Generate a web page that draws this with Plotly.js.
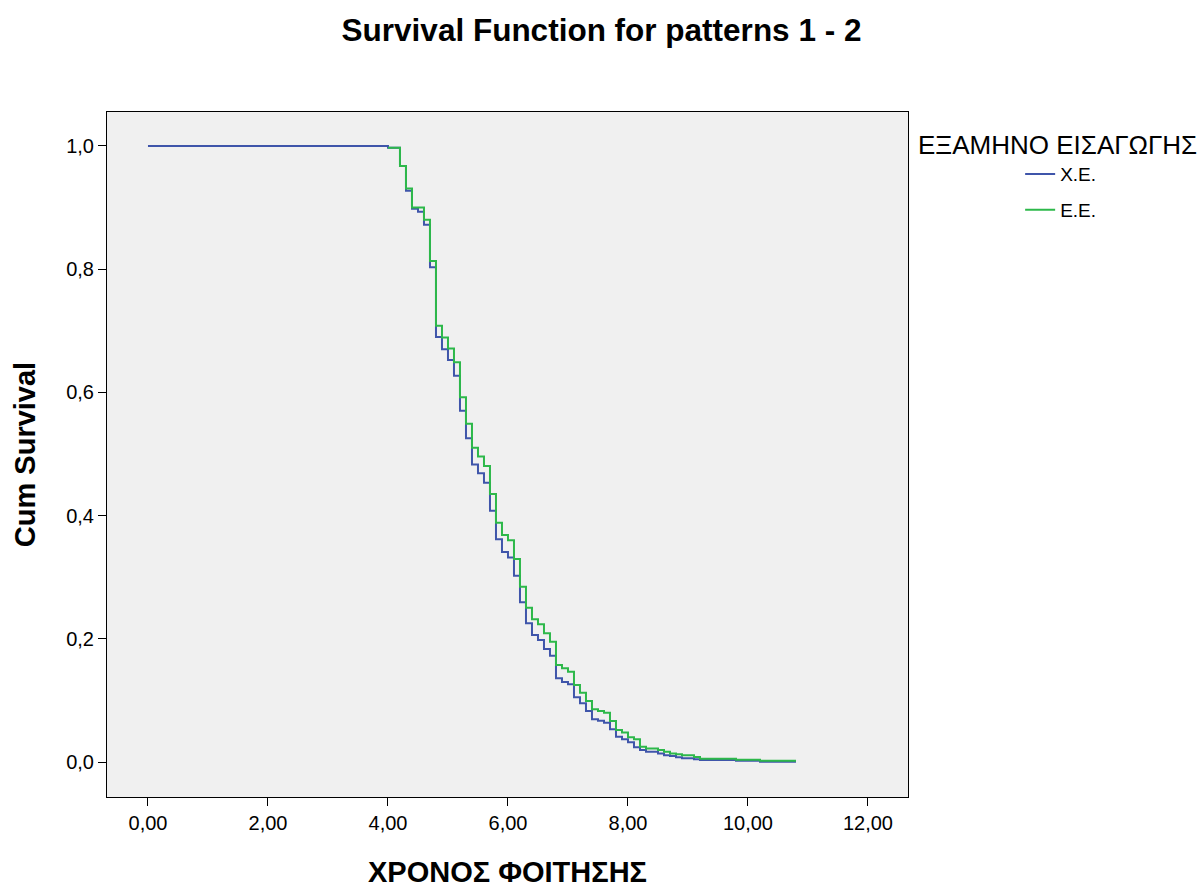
<!DOCTYPE html>
<html>
<head>
<meta charset="utf-8">
<script src="https://cdn.plot.ly/plotly-3.0.1.min.js"></script>
<style>html,body{margin:0;padding:0;background:#fff;}#chart{width:1203px;height:888px;}</style>
</head>
<body>
<div id="chart"></div>
<script>
// Step times (years) and cumulative survival values
const timesXE = [0, 4.0, 4.2, 4.3, 4.4, 4.5, 4.6, 4.7, 4.8, 4.9, 5.0, 5.1, 5.2, 5.3, 5.4, 5.5, 5.6, 5.7, 5.8, 5.9, 6.0, 6.1, 6.2, 6.3, 6.4, 6.5, 6.6, 6.7, 6.8, 6.9, 7.0, 7.1, 7.2, 7.3, 7.4, 7.5, 7.6, 7.7, 7.8, 7.9, 8.0, 8.1, 8.2, 8.3, 8.5, 8.6, 8.7, 8.8, 8.9, 9.1, 9.2, 9.8, 10.2, 10.8];
const survXE  = [1.0, 0.997, 0.9675, 0.927, 0.898, 0.893, 0.872, 0.803, 0.690, 0.670, 0.6526, 0.627, 0.570, 0.5255, 0.483, 0.4686, 0.4534, 0.408, 0.3615, 0.341, 0.332, 0.3024, 0.2592, 0.2251, 0.206, 0.198, 0.1834, 0.1726, 0.1359, 0.130, 0.126, 0.105, 0.0952, 0.0828, 0.0693, 0.067, 0.0638, 0.053, 0.041, 0.037, 0.032, 0.024, 0.0195, 0.0167, 0.014, 0.011, 0.0097, 0.0076, 0.006, 0.0043, 0.0032, 0.0021, 0.0005, 0.0005];

const timesEE = [4.0, 4.2, 4.3, 4.4, 4.6, 4.7, 4.8, 4.9, 5.0, 5.1, 5.2, 5.3, 5.4, 5.5, 5.6, 5.7, 5.8, 5.9, 6.0, 6.1, 6.2, 6.3, 6.4, 6.5, 6.6, 6.7, 6.8, 6.9, 7.0, 7.1, 7.2, 7.3, 7.4, 7.5, 7.6, 7.7, 7.8, 7.9, 8.0, 8.1, 8.2, 8.3, 8.5, 8.6, 8.7, 8.8, 8.9, 9.1, 9.2, 9.8, 10.2, 10.8];
const survEE  = [0.997, 0.9675, 0.931, 0.900, 0.880, 0.813, 0.708, 0.689, 0.671, 0.649, 0.592, 0.549, 0.510, 0.4957, 0.4805, 0.435, 0.3885, 0.3685, 0.360, 0.3295, 0.2846, 0.2505, 0.2316, 0.2235, 0.2088, 0.1953, 0.1575, 0.152, 0.1466, 0.125, 0.1125, 0.099, 0.0855, 0.0828, 0.080, 0.0666, 0.052, 0.048, 0.040, 0.037, 0.0249, 0.022, 0.0195, 0.0167, 0.014, 0.0125, 0.011, 0.008, 0.0054, 0.0037, 0.0021, 0.0021];

const seriesNames = ['Χ.Ε.', 'Ε.Ε.'];
const legendTitle = 'ΕΞΑΜΗΝΟ ΕΙΣΑΓΩΓΗΣ';
const xTicks = [0, 2, 4, 6, 8, 10, 12];
const yTicks = [0, 0.2, 0.4, 0.6, 0.8, 1.0];

const FONT = 'Arial, "Liberation Sans", sans-serif';

const traces = [
  {x: timesXE, y: survXE, name: seriesNames[0], legendgroup: 'a', type: 'scatter', mode: 'lines',
   line: {shape: 'hv', color: '#3F55AA', width: 2}},
  {x: timesEE, y: survEE, name: seriesNames[1], legendgroup: 'b', type: 'scatter', mode: 'lines',
   line: {shape: 'hv', color: '#2DB84A', width: 2}}
];

const layout = {
  width: 1203, height: 888,
  margin: {l: 107, r: 295, t: 112, b: 91, pad: 0},
  paper_bgcolor: '#ffffff',
  plot_bgcolor: '#f0f0f0',
  separators: ',.',
  font: {family: FONT, color: '#000', size: 20},
  title: {text: '<b>Survival Function for patterns 1 - 2</b>', x: 0.5, xref: 'container', xanchor: 'center',
          y: 0.966, yref: 'container', yanchor: 'middle', font: {size: 31.5, family: FONT, color: '#000'}},
  xaxis: {
    range: [-0.683, 12.667], tickvals: xTicks, tickformat: '.2f',
    ticks: 'outside', ticklen: 8, tickwidth: 1, tickcolor: '#000',
    showline: true, linecolor: '#000', linewidth: 1, mirror: true,
    showgrid: false, zeroline: false,
    tickfont: {size: 20, family: FONT, color: '#000'},
    title: {text: '<b>ΧΡΟΝΟΣ ΦΟΙΤΗΣΗΣ</b>', font: {size: 29, family: FONT, color: '#000'}, standoff: 40}
  },
  yaxis: {
    range: [-0.0568, 1.055], tickvals: yTicks, tickformat: '.1f',
    ticks: 'outside', ticklen: 8, tickwidth: 1, tickcolor: '#000',
    showline: true, linecolor: '#000', linewidth: 1, mirror: true,
    showgrid: false, zeroline: false,
    tickfont: {size: 20, family: FONT, color: '#000'},
    title: {text: '<b>Cum Survival</b>', font: {size: 29, family: FONT, color: '#000'}, standoff: 22}
  },
  showlegend: true,
  legend: {
    x: 1.140, xanchor: 'left', y: 0.937, yanchor: 'top',
    bgcolor: 'rgba(0,0,0,0)',
    font: {size: 19, family: FONT, color: '#000'},
    traceorder: 'grouped', tracegroupgap: 8, itemwidth: 30
  },
  annotations: [
    {text: legendTitle, xref: 'paper', yref: 'paper', x: 1.187, y: 0.952, xanchor: 'center', yanchor: 'middle',
     showarrow: false, font: {size: 26, family: FONT, color: '#000'}}
  ]
};

Plotly.newPlot('chart', traces, layout, {displayModeBar: false, staticPlot: true});
</script>
</body>
</html>
